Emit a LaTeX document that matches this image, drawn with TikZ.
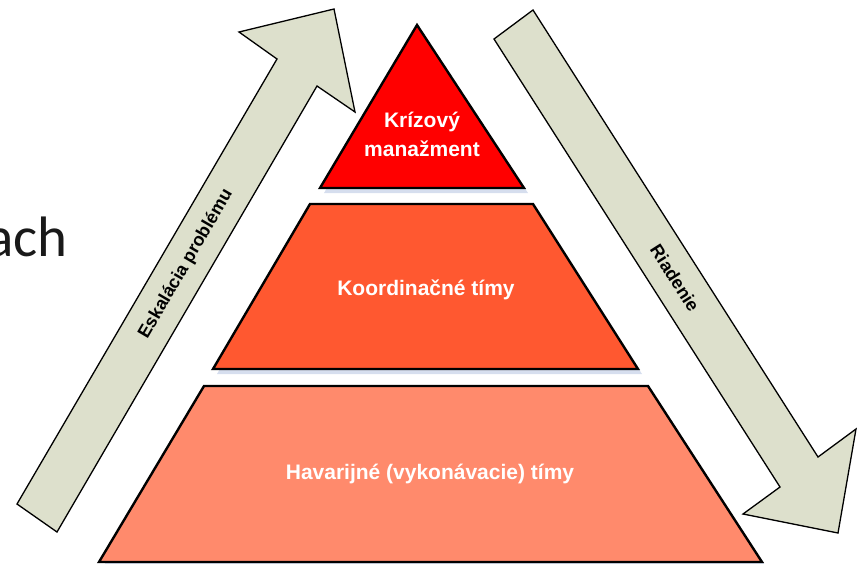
\documentclass[tikz,border=0pt]{standalone}
\usepackage{fontspec}
\setmainfont{Liberation Sans}
\newfontfamily\slidefont{Carlito}
\usepackage{tikz}
\usetikzlibrary{positioning}

\definecolor{krizred}{RGB}{255,0,0}
\definecolor{koordred}{RGB}{255,88,48}
\definecolor{havsalmon}{RGB}{255,138,108}
\definecolor{arrowgray}{RGB}{221,224,204}
\definecolor{shadowblue}{RGB}{214,222,238}

\tikzset{
  tier/.style={draw=black, line width=2.4pt, line join=miter},
  tiershadow/.style={fill=shadowblue, shift={(4,5)}},
  bigarrow/.style={draw=black, fill=arrowgray, line width=1.3pt, line join=miter},
  tierlabel/.style={text=white, font=\bfseries\fontsize{21}{29}\selectfont, align=center},
  arrowlabel/.style={text=black, font=\bfseries\fontsize{18}{22}\selectfont}
}

\begin{document}
\begin{tikzpicture}[x=1pt, y=-1pt]
      \useasboundingbox (0,0) rectangle (865,563);

      \node[anchor=base east, inner sep=0pt, font=\slidefont\fontsize{57}{60}\selectfont, text=black!90] (slideword) at (68,256) {ach};

      \draw[bigarrow] (17,504) -- (277,59) -- (239,32) -- (334,9) -- (355,112) -- (317,86) -- (57,532) -- cycle;
      \draw[bigarrow] (533,10) -- (818,457) -- (856,429) -- (838,533) -- (743,514) -- (780,487) -- (494,39) -- cycle;

      \node[arrowlabel, rotate=59.7] (eskalacia) at (186,264) {Eskalácia problému};
      \node[arrowlabel, rotate=-57.4] (riadenie) at (675,278) {Riadenie};

      \fill[tiershadow] (417,25) -- (524,188) -- (320,188) -- cycle;
      \fill[tiershadow] (310,204) -- (533,204) -- (638,369) -- (213,369) -- cycle;
      \fill[tiershadow] (204,386) -- (648,386) -- (762,562) -- (99,562) -- cycle;

      \draw[tier, fill=krizred] (417,25) -- (524,188) -- (320,188) -- cycle;
      \draw[tier, fill=koordred] (310,204) -- (533,204) -- (638,369) -- (213,369) -- cycle;
      \draw[tier, fill=havsalmon] (204,386) -- (648,386) -- (762,562) -- (99,562) -- cycle;

      \node[tierlabel] (krizovy) at (422,134) {Krízový\\manažment};
      \node[tierlabel, anchor=base] (koordinacne) at (426,295) {Koordinačné tímy};
      \node[tierlabel, anchor=base] (havarijne) at (430,479) {Havarijné (vykonávacie) tímy};
\end{tikzpicture}
\end{document}
